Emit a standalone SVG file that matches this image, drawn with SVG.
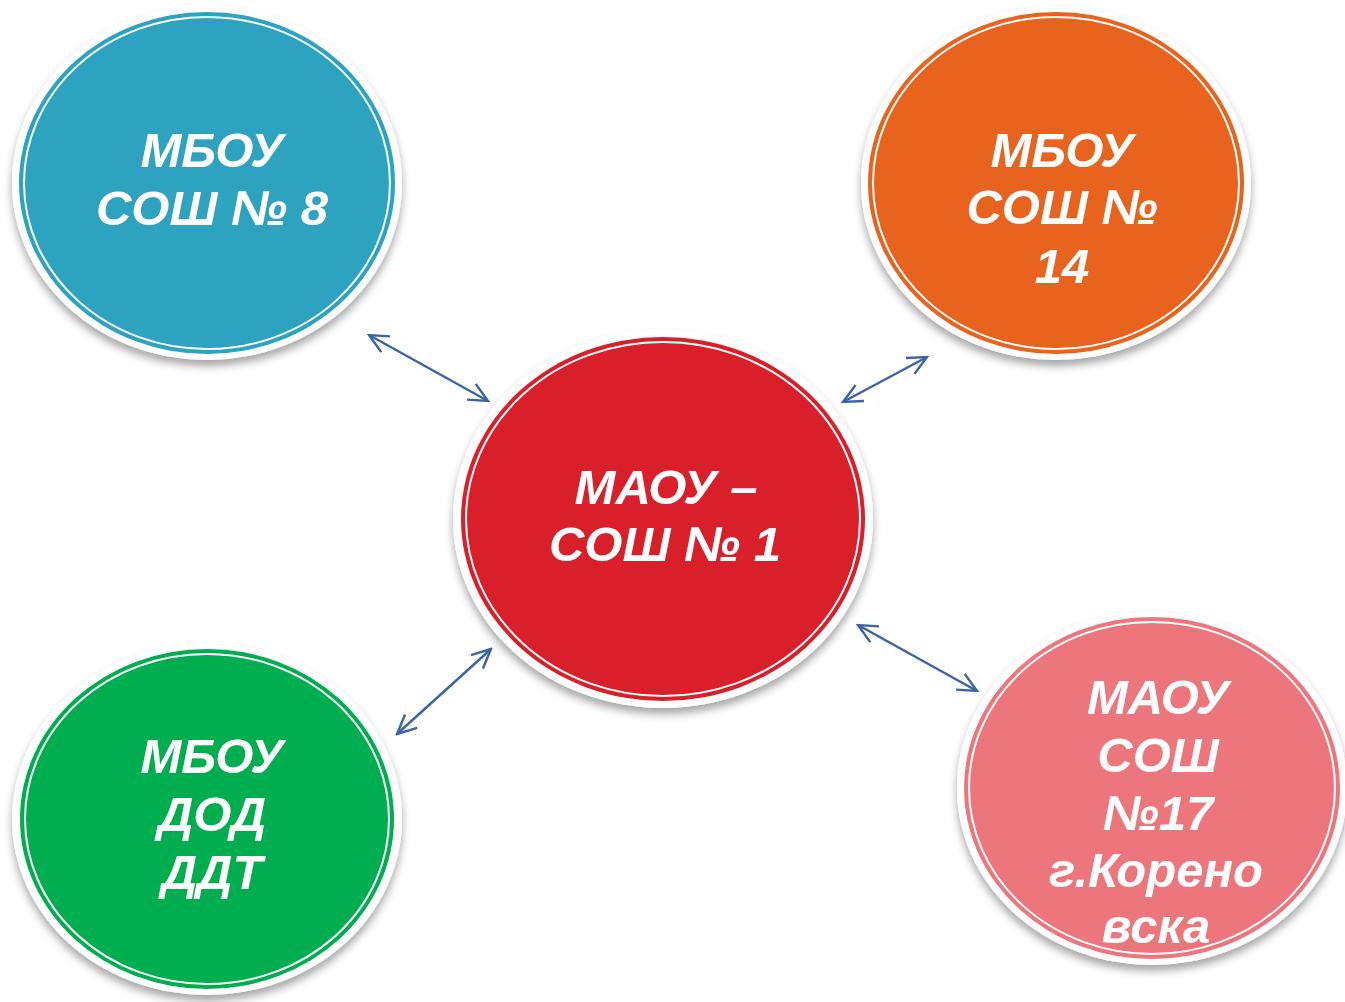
<svg xmlns="http://www.w3.org/2000/svg" width="1345" height="1002" viewBox="0 0 1345 1002">
<defs>
<filter id="sh" x="-20%" y="-20%" width="140%" height="150%">
<feDropShadow dx="0" dy="6" stdDeviation="4" flood-color="#000" flood-opacity="0.35"/>
</filter>
<marker id="ah" viewBox="0 0 22 22" refX="20" refY="11" markerWidth="22" markerHeight="22" markerUnits="userSpaceOnUse" orient="auto-start-reverse">
<path d="M1,2 L20,11 L1,20" fill="none" stroke="#3B63A5" stroke-width="2.4"/>
</marker>
</defs>
<style>
.ring{fill:#fff;filter:url(#sh)}
.inner{fill:none;stroke:#fff;stroke-width:2}
.lbl{font-family:"Liberation Sans",Arial,sans-serif;font-style:italic;font-weight:700;font-size:49px;fill:#fff;text-anchor:middle}
.con{fill:none;stroke:#3B63A5;stroke-width:2.4;marker-start:url(#ah);marker-end:url(#ah)}
</style>
<rect width="1345" height="1002" fill="#fff"/>
<g id="connectors">
<line class="con" x1="369" y1="335" x2="488" y2="401"/>
<line class="con" x1="843" y1="402" x2="927" y2="357"/>
<line class="con" x1="397" y1="734" x2="491" y2="649"/>
<line class="con" x1="858" y1="625" x2="977" y2="691"/>
</g>
<g id="n-sosh8">
<ellipse class="ring" cx="207" cy="183" rx="195" ry="177"/>
<ellipse cx="207" cy="183" rx="188" ry="171" fill="#2EA3C0"/>
<ellipse class="inner" cx="207" cy="183" rx="183" ry="166"/>
<text class="lbl" x="212" y="167">МБОУ</text>
<text class="lbl" x="212" y="225">СОШ № 8</text>
</g>
<g id="n-sosh14">
<ellipse class="ring" cx="1056" cy="183" rx="195" ry="177"/>
<ellipse cx="1056" cy="183" rx="188" ry="171" fill="#E8641E"/>
<ellipse class="inner" cx="1056" cy="183" rx="183" ry="166"/>
<text class="lbl" x="1062" y="167">МБОУ</text>
<text class="lbl" x="1062" y="224">СОШ №</text>
<text class="lbl" x="1062" y="283">14</text>
</g>
<g id="n-sosh1">
<ellipse class="ring" cx="663" cy="519" rx="210" ry="189"/>
<ellipse cx="663" cy="519" rx="202" ry="182" fill="#D91F29"/>
<ellipse class="inner" cx="663" cy="519" rx="197" ry="177"/>
<text class="lbl" x="666" y="504">МАОУ –</text>
<text class="lbl" x="665" y="561">СОШ № 1</text>
</g>
<g id="n-ddt">
<ellipse class="ring" cx="207" cy="819" rx="195" ry="176"/>
<ellipse cx="207" cy="819" rx="187" ry="170" fill="#00AD4F"/>
<ellipse class="inner" cx="207" cy="819" rx="182" ry="165"/>
<text class="lbl" x="212" y="773">МБОУ</text>
<text class="lbl" x="212" y="831">ДОД</text>
<text class="lbl" x="212" y="889">ДДТ</text>
</g>
<g id="n-sosh17">
<ellipse class="ring" cx="1152" cy="788" rx="195" ry="177"/>
<ellipse cx="1152" cy="788" rx="188" ry="171" fill="#ED767C"/>
<ellipse class="inner" cx="1152" cy="788" rx="183" ry="166"/>
<text class="lbl" x="1158" y="714">МАОУ</text>
<text class="lbl" x="1158" y="772">СОШ</text>
<text class="lbl" x="1158" y="830">№17</text>
<text class="lbl" x="1156" y="887">г.Корено</text>
<text class="lbl" x="1156" y="943">вска</text>
</g>
</svg>
